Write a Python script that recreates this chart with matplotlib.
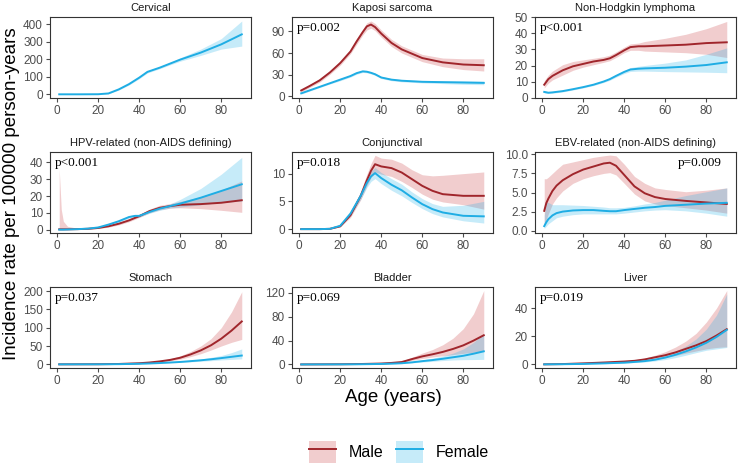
import matplotlib
matplotlib.use("Agg")
import matplotlib.pyplot as plt
from matplotlib.patches import Patch
from matplotlib.lines import Line2D

# ---- data (age in years, rate per 100000 person-years)
cerv_age = [1, 10, 20, 25, 30, 35, 40, 44, 50, 55, 60, 70, 80, 90]
cerv_f = [0, 0, 0.5, 5, 28, 58, 95, 128, 152, 175, 198, 238, 285, 342]
cerv_f_lo = [0, 0, 0, 3, 24, 53, 89, 122, 146, 168, 189, 222, 258, 275]
cerv_f_hi = [0.5, 0.5, 1, 7, 32, 63, 101, 134, 158, 182, 208, 258, 318, 418]

kap_age = [1, 5, 10, 15, 20, 25, 28, 31, 33, 35, 37, 40, 45, 50, 60, 70, 80, 90]
kap_m = [8, 14, 22, 33, 46, 62, 76, 89, 97, 99.5, 96, 87, 74, 65, 53, 47, 44, 43]
kap_m_lo = [6, 12, 19.5, 30.5, 43, 59, 72, 85, 92, 94.5, 91, 82, 69, 60, 48, 41, 37, 35]
kap_m_hi = [10, 16, 24.5, 35.5, 49, 65, 80, 93, 102, 104.5, 101, 92, 79, 70, 58, 53, 52, 52]
kap_f = [4, 8, 13, 18, 23, 28, 32, 34.5, 34, 32.5, 30.5, 26, 23, 21.5, 20, 19.5, 19, 18.5]
kap_f_lo = [3, 7, 12, 17, 21.5, 26.5, 30.5, 33, 32.5, 31, 29, 24.5, 21.5, 20, 18.5, 17.5, 16.5, 16]
kap_f_hi = [5, 9, 14, 19, 24.5, 29.5, 33.5, 36, 35.5, 34, 32, 27.5, 24.5, 23, 21.5, 21.5, 21.5, 21]

nhl_age = [1, 3, 5, 10, 15, 20, 25, 30, 33, 36, 40, 43, 47, 50, 60, 70, 80, 90]
nhl_m = [8, 11.5, 13.5, 17, 19.5, 21, 22.5, 23.5, 24.5, 26.5, 29.5, 31.5, 32, 32, 32.5, 33, 34, 34.5]
nhl_m_lo = [6, 9, 11, 14, 17, 19, 20.5, 22, 23, 25, 28, 29.5, 29.5, 29, 28.5, 28, 27, 25]
nhl_m_hi = [10.5, 14, 16.5, 20.5, 22.5, 23.5, 24.5, 25.5, 26.5, 28.5, 31.5, 33.5, 34, 35, 37, 39.5, 43, 47.5]
nhl_f = [3.5, 3, 3.2, 4, 5.2, 6.5, 8, 10, 11.5, 13.5, 16, 17.5, 18, 18.2, 18.6, 19.3, 20.3, 22]
nhl_f_lo = [2.8, 2.5, 2.7, 3.5, 4.7, 6, 7.5, 9.4, 10.8, 12.7, 15, 16.3, 16.5, 16.5, 16.2, 16, 15.8, 15.5]
nhl_f_hi = [4.3, 3.6, 3.8, 4.5, 5.7, 7, 8.5, 10.6, 12.2, 14.3, 17, 18.7, 19.5, 20, 21.5, 23.5, 27, 31]

hpv_age = [1, 2, 3, 5, 10, 15, 20, 25, 30, 35, 38, 40, 45, 50, 55, 60, 70, 80, 90]
hpv_m = [0.2, 0.2, 0.2, 0.2, 0.3, 0.5, 1, 2, 3.5, 5.5, 7, 8, 11, 13, 14, 14.8, 15.2, 16, 17.5]
hpv_m_lo = [0, 0, 0, 0, 0.1, 0.3, 0.7, 1.5, 2.8, 4.7, 6.2, 7.2, 10, 11.8, 12.8, 13, 12.5, 11.5, 10.3]
hpv_m_hi = [36, 12, 5, 2, 0.8, 0.8, 1.4, 2.6, 4.3, 6.4, 7.9, 9, 12.2, 14.5, 15.5, 16.8, 19.5, 23.5, 29]
hpv_f = [0, 0, 0, 0.1, 0.3, 0.6, 1.3, 3, 5, 7.5, 8.2, 8.2, 10.5, 12.5, 14, 15.5, 19, 23, 27]
hpv_f_lo = [0, 0, 0, 0, 0.2, 0.4, 1, 2.5, 4.4, 6.8, 7.5, 7.5, 9.7, 11.5, 12.8, 13.5, 14.8, 16.2, 17]
hpv_f_hi = [0.3, 0.3, 0.3, 0.3, 0.5, 0.8, 1.6, 3.6, 5.7, 8.3, 9, 9, 11.4, 13.6, 15.3, 18, 24.5, 33, 43]

conj_age = [1, 10, 15, 20, 25, 30, 33, 35, 37, 40, 45, 50, 55, 60, 65, 70, 80, 90]
conj_m = [0, 0, 0.05, 0.5, 2.5, 6, 8.8, 10.5, 11.7, 11.3, 11, 10.2, 9, 7.8, 6.9, 6.3, 6, 6]
conj_m_lo = [0, 0, 0.03, 0.4, 2.1, 5.3, 7.8, 9.3, 10.3, 9.9, 9.5, 8.6, 7.5, 6.3, 5.4, 4.9, 4.4, 3.6]
conj_m_hi = [0, 0, 0.07, 0.6, 2.9, 6.8, 9.9, 11.8, 13.3, 12.8, 12.6, 11.9, 10.7, 9.8, 9.6, 9.7, 10, 10.3]
conj_f = [0, 0, 0.05, 0.6, 2.8, 6, 8.3, 9.5, 10.1, 9.2, 8, 7, 5.7, 4.5, 3.6, 3, 2.4, 2.3]
conj_f_lo = [0, 0, 0.03, 0.5, 2.4, 5.4, 7.5, 8.6, 9.1, 8.2, 7, 6, 4.8, 3.7, 2.8, 2.2, 1.5, 1.1]
conj_f_hi = [0, 0, 0.07, 0.7, 3.2, 6.6, 9.1, 10.4, 11.1, 10.2, 9.1, 8.1, 6.7, 5.5, 4.6, 4.1, 4.3, 5]

ebv_age = [1, 2, 3, 5, 7, 10, 15, 20, 25, 30, 33, 36, 40, 45, 50, 55, 60, 70, 80, 90]
ebv_m = [2.6, 3.6, 4.2, 5.2, 5.9, 6.6, 7.4, 8, 8.4, 8.8, 8.9, 8.5, 7.3, 5.8, 4.9, 4.4, 4.15, 3.9, 3.7, 3.5]
ebv_m_lo = [0.9, 1.5, 2.2, 3.5, 4.3, 5.2, 6.2, 6.8, 7.2, 7.5, 7.6, 7.3, 6.2, 4.8, 3.9, 3.5, 3.3, 3, 2.7, 2.3]
ebv_m_hi = [6.8, 6.8, 7, 7.5, 8, 8.7, 9, 9.3, 9.6, 9.8, 9.9, 9.8, 8.7, 7.1, 6.2, 5.6, 5.4, 5.1, 5.3, 5.6]
ebv_f = [0.6, 1.1, 1.5, 2, 2.3, 2.5, 2.65, 2.7, 2.7, 2.6, 2.55, 2.55, 2.7, 2.85, 3, 3.1, 3.25, 3.4, 3.55, 3.65]
ebv_f_lo = [0.3, 0.6, 0.9, 1.3, 1.7, 1.9, 2.1, 2.2, 2.2, 2.2, 2.2, 2.2, 2.3, 2.45, 2.6, 2.7, 2.75, 2.6, 2.3, 1.9]
ebv_f_hi = [2.0, 3.7, 3.7, 3.4, 3.4, 3.4, 3.35, 3.3, 3.2, 3.1, 3, 3, 3.05, 3.25, 3.5, 3.7, 4, 4.6, 5.1, 5.6]

stom_age = [1, 20, 30, 40, 45, 50, 55, 60, 65, 70, 75, 80, 85, 90]
stom_m = [0, 0.3, 1, 3, 5, 8, 12, 18, 27, 38, 52, 70, 92, 117]
stom_m_lo = [0, 0.2, 0.7, 2.3, 4, 6.5, 9.8, 14, 21, 29, 39, 50, 60, 68]
stom_m_hi = [0, 0.5, 1.4, 3.8, 6.2, 10, 15, 23, 35, 50, 70, 100, 143, 198]
stom_f = [0, 0.1, 0.5, 1.5, 2.4, 3.5, 5, 6.5, 8.7, 11, 13.8, 17, 20.5, 24]
stom_f_lo = [0, 0.05, 0.4, 1.2, 2, 2.9, 4, 5.2, 6.8, 8.5, 10, 12, 13.5, 15]
stom_f_hi = [0, 0.15, 0.6, 1.8, 2.9, 4.2, 6.2, 8.2, 11, 14.5, 19, 24, 32, 42]

blad_age = [1, 20, 30, 40, 45, 50, 55, 60, 65, 70, 75, 80, 85, 90]
blad_m = [0, 0.3, 0.7, 1.5, 2.5, 4, 9, 13.5, 17, 21, 26, 32, 40, 49]
blad_m_lo = [0, 0.2, 0.5, 1.1, 1.9, 3, 6.8, 10, 12.5, 14.5, 16.5, 18.5, 20.5, 22]
blad_m_hi = [0, 0.4, 0.9, 2, 3.3, 5.5, 12, 19, 25, 33, 44, 60, 85, 124]
blad_f = [0, 0.1, 0.3, 0.8, 1.3, 2, 3.5, 5.5, 7.3, 9.5, 12, 14.5, 18, 22]
blad_f_lo = [0, 0.05, 0.2, 0.6, 1, 1.5, 2.6, 4, 5.2, 6.5, 7.5, 8, 8.2, 8.5]
blad_f_hi = [0, 0.15, 0.4, 1, 1.7, 2.7, 4.7, 7.5, 10.5, 14, 19, 26, 37, 52]

liv_age = [1, 10, 20, 30, 40, 45, 50, 55, 60, 65, 70, 75, 80, 85, 90]
liv_m = [0, 0.2, 0.7, 1.3, 2, 2.5, 3.5, 5, 6.5, 8.5, 11, 13.5, 16.5, 20.5, 25]
liv_m_lo = [0, 0.1, 0.5, 1, 1.6, 2, 2.8, 3.9, 5, 6.3, 8, 9.5, 11, 12, 12.5]
liv_m_hi = [0, 0.3, 0.9, 1.6, 2.5, 3.2, 4.5, 6.5, 9, 12.3, 16.5, 22, 30, 40, 52.5]
liv_f = [0, 0.1, 0.3, 0.7, 1.2, 1.7, 2.3, 3.3, 4.8, 6.8, 9.2, 12, 15.3, 19.5, 24.5]
liv_f_lo = [0, 0.05, 0.2, 0.5, 0.9, 1.3, 1.7, 2.4, 3.4, 4.8, 6.5, 8.3, 10, 11, 12]
liv_f_hi = [0, 0.15, 0.4, 0.9, 1.5, 2.2, 3, 4.4, 6.5, 9.3, 13, 18, 25, 35, 50]

titles = ["Cervical", "Kaposi sarcoma", "Non-Hodgkin lymphoma",
          "HPV-related (non-AIDS defining)", "Conjunctival", "EBV-related (non-AIDS defining)",
          "Stomach", "Bladder", "Liver"]
pvals = [None, "p=0.002", "p<0.001", "p<0.001", "p=0.018", "p=0.009",
         "p=0.037", "p=0.069", "p=0.019"]
yticks = [[0, 100, 200, 300, 400], [0, 30, 60, 90], [0, 10, 20, 30, 40, 50],
          [0, 10, 20, 30, 40], [0, 5, 10], [0, 2.5, 5, 7.5, 10],
          [0, 50, 100, 150, 200], [0, 40, 80, 120], [0, 20, 40]]
ylims = [(-21, 441), (-2.5, 110), (-0.3, 50.3), (-2, 46.2), (-0.7, 13.9),
         (-0.3, 10.3), (-10, 211), (-6, 130), (-2.6, 55)]

male = [None,
        (kap_age, kap_m, kap_m_lo, kap_m_hi),
        (nhl_age, nhl_m, nhl_m_lo, nhl_m_hi),
        (hpv_age, hpv_m, hpv_m_lo, hpv_m_hi),
        (conj_age, conj_m, conj_m_lo, conj_m_hi),
        (ebv_age, ebv_m, ebv_m_lo, ebv_m_hi),
        (stom_age, stom_m, stom_m_lo, stom_m_hi),
        (blad_age, blad_m, blad_m_lo, blad_m_hi),
        (liv_age, liv_m, liv_m_lo, liv_m_hi)]
female = [(cerv_age, cerv_f, cerv_f_lo, cerv_f_hi),
          (kap_age, kap_f, kap_f_lo, kap_f_hi),
          (nhl_age, nhl_f, nhl_f_lo, nhl_f_hi),
          (hpv_age, hpv_f, hpv_f_lo, hpv_f_hi),
          (conj_age, conj_f, conj_f_lo, conj_f_hi),
          (ebv_age, ebv_f, ebv_f_lo, ebv_f_hi),
          (stom_age, stom_f, stom_f_lo, stom_f_hi),
          (blad_age, blad_f, blad_f_lo, blad_f_hi),
          (liv_age, liv_f, liv_f_lo, liv_f_hi)]

MALE_LINE = "#A0262C"
MALE_FILL = "#C8383C"
FEM_LINE = "#1FADE4"
FEM_FILL = "#1EB0E8"
GREY = "#4D4D4D"

plt.rcParams['font.family'] = ['Liberation Sans', 'DejaVu Sans']

W, H = 739, 467
fig = plt.figure(figsize=(W / 100, H / 100), dpi=100)

col_left = [50, 292, 535]
row_top = [17, 152, 287]
pw, ph = 201, 81

for i in range(9):
    r, c = divmod(i, 3)
    ax = fig.add_axes([col_left[c] / W, 1 - (row_top[r] + ph) / H, pw / W, ph / H])
    if male[i] is not None:
        a, m, lo, hi = male[i]
        ax.fill_between(a, lo, hi, color=MALE_FILL, alpha=0.25, lw=0)
        ax.plot(a, m, color=MALE_LINE, lw=1.4)
    a, f, lo, hi = female[i]
    ax.fill_between(a, lo, hi, color=FEM_FILL, alpha=0.25, lw=0)
    ax.plot(a, f, color=FEM_LINE, lw=1.4)

    ax.set_xlim(-3.5, 94.5)
    ax.set_ylim(*ylims[i])
    ax.set_xticks([0, 20, 40, 60, 80])
    ax.set_yticks(yticks[i])
    if i == 5:
        ax.set_yticklabels(["0.0", "2.5", "5.0", "7.5", "10.0"])
    ax.tick_params(colors=GREY, labelsize=8.5, length=3, width=0.8, pad=2)
    for s in ax.spines.values():
        s.set_color("#333333")
        s.set_linewidth(0.8)
    ax.set_title(titles[i], fontsize=8, color="#1A1A1A", pad=4)
    if pvals[i]:
        if i == 5:
            ax.text(0.93, 0.86, pvals[i], transform=ax.transAxes, ha="right", va="center",
                    fontsize=9.5, family="Liberation Serif")
        else:
            ax.text(0.025, 0.86, pvals[i], transform=ax.transAxes, ha="left", va="center",
                    fontsize=9.5, family="Liberation Serif")

fig.text(12 / W, 1 - 194 / H, "Incidence rate per 100000 person-years",
         rotation=90, ha="center", va="center", fontsize=13.5)
fig.text(393 / W, 1 - 397 / H, "Age (years)", ha="center", va="center", fontsize=13.5)

handles = [(Patch(facecolor=MALE_FILL, alpha=0.25, lw=0), Line2D([], [], color=MALE_LINE, lw=1.4)),
           (Patch(facecolor=FEM_FILL, alpha=0.25, lw=0), Line2D([], [], color=FEM_LINE, lw=1.4))]
fig.legend(handles, ["Male", "Female"], loc="center", bbox_to_anchor=(399 / W, 1 - 452 / H),
           ncol=2, frameon=False, fontsize=11.5, handlelength=1.7, handleheight=1.7,
           columnspacing=0.8, handletextpad=0.8)

fig.savefig("out.png", dpi=100)
